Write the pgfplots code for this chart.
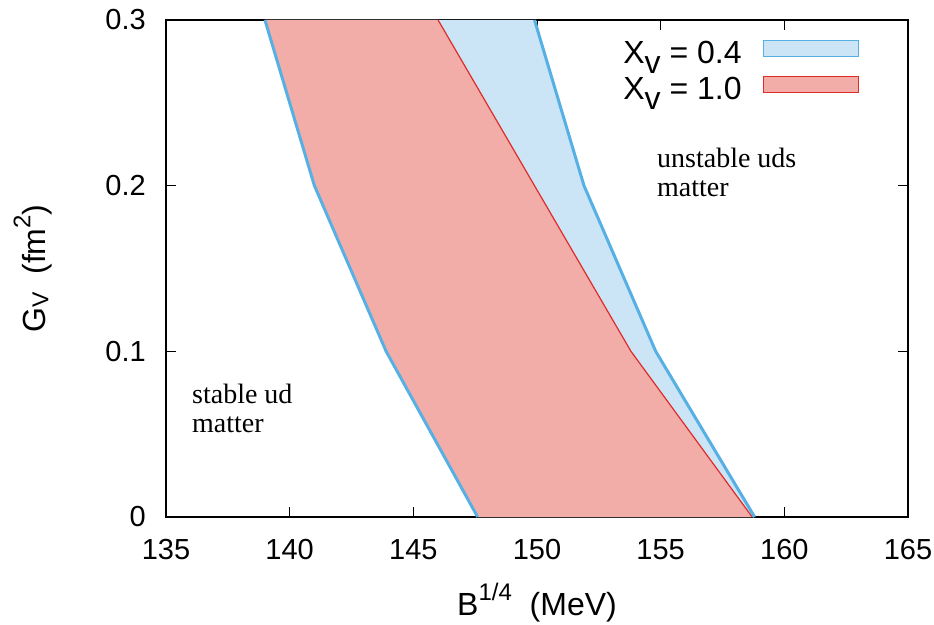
\documentclass[border=0pt]{standalone}
\usepackage{fontspec}
\setmainfont{Liberation Sans}
\newfontfamily\serifann{Liberation Serif}
\usepackage{pgfplots}
\pgfplotsset{compat=1.18}
\definecolor{bluefill}{RGB}{204,229,246}
\definecolor{blueline}{RGB}{86,176,228}
\definecolor{redfill}{RGB}{243,173,169}
\definecolor{redline}{RGB}{222,44,40}
\newcommand\sups[1]{\raisebox{15bp}{\fontsize{24bp}{24bp}\selectfont #1}}
\newcommand\subs[1]{\raisebox{-3bp}{\fontsize{23bp}{23bp}\selectfont #1}}
\begin{document}
\begin{tikzpicture}
\begin{axis}[
  name=ax,
  scale only axis,
  width=742bp, height=497bp,
  xmin=135, xmax=165, ymin=0, ymax=0.3,
  xtick={135,140,...,165},
  ytick={0,0.1,0.2,0.3},
  yticklabels={0,0.1,0.2,0.3},
  /pgf/number format/assume math mode=true,
  tick align=inside,
  major tick length=10bp,
  tick style={line width=1bp, black},
  axis line style={line width=2bp},
  ticklabel style={font=\fontsize{29bp}{34bp}\selectfont},
  yticklabel style={inner sep=0pt, xshift=-20bp},
  xticklabel style={inner sep=0pt, yshift=-22bp},
  xlabel={B\sups{1/4}~~(MeV)},
  ylabel={G\subs{V}~~(fm\sups{2})},
  label style={font=\fontsize{32bp}{38bp}\selectfont},
  xlabel style={at={(axis description cs:0.5,-0.1972)}, anchor=base},
  ylabel style={at={(axis description cs:-0.1625,0.5)}, anchor=base, rotate=0},
  legend style={draw=none, fill=none, at={(rel axis cs:0.938,0.966)}, anchor=north east,
    font=\fontsize{32bp}{34bp}\selectfont, column sep=20bp, row sep=3bp,
    nodes={inner sep=1bp, text height=23bp, text depth=8bp}},
  legend plot pos=right,
  legend cell align=right,
  legend image code/.code={\draw[#1] (0bp,-1bp) rectangle (95bp,15bp);},
]
% blue region X_v = 0.4
\addplot[fill=bluefill, draw=none, forget plot] coordinates {
  (139.0,0.3) (141.0,0.2) (143.9,0.1) (147.6,0)
  (158.8,0) (154.8,0.1) (151.9,0.2) (149.9,0.3)} -- cycle;
% red region X_v = 1.0
\addplot[fill=redfill, draw=none, forget plot] coordinates {
  (139.0,0.3) (141.0,0.2) (143.9,0.1) (147.6,0)
  (158.7,0) (153.8,0.1) (149.9,0.2) (146.0,0.3)} -- cycle;
\addplot[redline, line width=1.2bp, forget plot] coordinates {
  (158.7,0) (153.8,0.1) (149.9,0.2) (146.0,0.3)};
\addplot[blueline, line width=3bp, forget plot] coordinates {
  (139.0,0.3) (141.0,0.2) (143.9,0.1) (147.6,0)};
\addplot[blueline, line width=3bp, forget plot] coordinates {
  (158.8,0) (154.8,0.1) (151.9,0.2) (149.9,0.3)};
\addlegendimage{fill=bluefill, draw=blueline, line width=1.2bp}
\addlegendentry{X\raisebox{-10bp}{v} = 0.4}
\addlegendimage{fill=redfill, draw=redline, line width=1.2bp}
\addlegendentry{X\raisebox{-10bp}{v} = 1.0}
\node[anchor=north west, inner sep=0pt, align=left,
  font=\serifann\fontsize{28bp}{29bp}\selectfont] at (axis cs:136.05,0.0803) {stable ud\\matter};
\node[anchor=north west, inner sep=0pt, align=left,
  font=\serifann\fontsize{28bp}{29bp}\selectfont] at (axis cs:154.85,0.2227) {unstable uds\\matter};
\end{axis}
\pgfresetboundingbox
\path ([shift={(-166bp,-108bp)}]ax.south west) rectangle ([shift={(26bp,20bp)}]ax.north east);
\end{tikzpicture}
\end{document}
